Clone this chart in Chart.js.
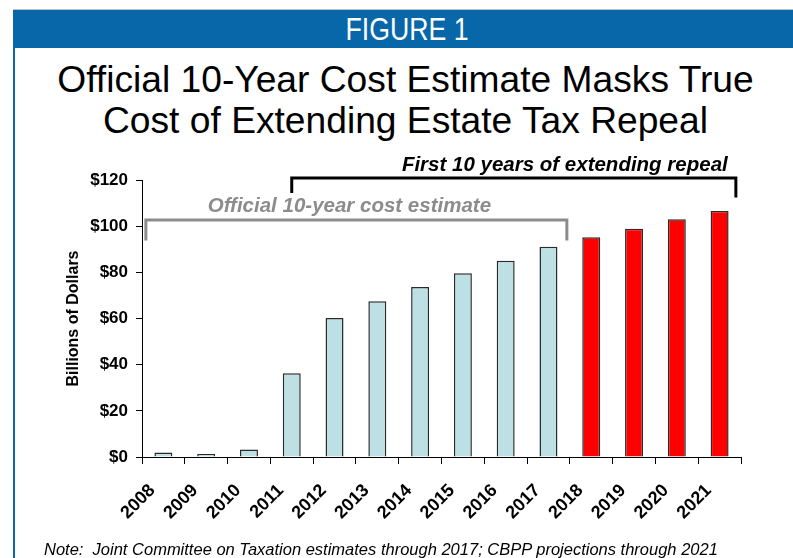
<!DOCTYPE html>
<html>
<head>
<meta charset="utf-8">
<script src="https://cdn.jsdelivr.net/npm/chart.js@4/dist/chart.umd.min.js"></script>
<style>
  html, body { margin:0; padding:0; background:#fff; }
  body { width:793px; height:558px; position:relative; overflow:hidden; font-family:"Liberation Sans", Arial, sans-serif; }
  #topline { position:absolute; left:13px; top:9px; width:780px; height:1px; background:#b8c4cc; }
  #header { position:absolute; left:13px; top:10px; width:780px; height:38px; background:#0767a9; color:#fff; }
  #header span { position:absolute; left:394px; top:4px; font-family:"Liberation Sans", Arial, sans-serif; font-size:31px; line-height:31px;
                 transform: translateX(-50%) scaleX(0.86); transform-origin: center; white-space:nowrap; }
  #leftborder { position:absolute; left:13px; top:48px; width:2px; height:510px; background:#0767a9; }
  #title { position:absolute; left:0; top:59px; width:811px; text-align:center; font-size:37.2px; line-height:41px; color:#000; }
  #note { position:absolute; left:44px; top:540px; font-size:16.5px; font-style:italic; color:#000; white-space:nowrap; }
  #wrap { position:absolute; left:0; top:0; width:793px; height:558px; }
</style>
</head>
<body>
<div id="topline"></div>
<div id="header"><span>FIGURE 1</span></div>
<div id="leftborder"></div>
<div id="title">Official 10-Year Cost Estimate Masks True<br>Cost of Extending Estate Tax Repeal</div>
<div id="wrap"><canvas id="c" width="793" height="558"></canvas></div>
<div id="note">Note:&nbsp; Joint Committee on Taxation estimates through 2017; CBPP projections through 2021</div>
<script>
const categories = ["2008","2009","2010","2011","2012","2013","2014","2015","2016","2017","2018","2019","2020","2021"];
const costValues = [2.0, 1.3, 3.3, 36.3, 60.2, 67.5, 73.6, 79.6, 85.0, 91.1, 95.2, 98.9, 103.0, 106.6];
const barColors = ["#bde0e4","#bde0e4","#bde0e4","#bde0e4","#bde0e4","#bde0e4","#bde0e4","#bde0e4","#bde0e4","#bde0e4","#ff0000","#ff0000","#ff0000","#ff0000"];
const yTicks = [0, 20, 40, 60, 80, 100, 120];
const yTitle = "Billions of Dollars";
// Bracket annotations: category-index span and value heights
const grayBracket = { text: "Official 10-year cost estimate", from: -0.41, to: 9.43, top: 102.7, legBottomLeft: 93.8, legBottomRight: 93.8, textValue: 108.5, color: "#8c8c8c", textShift: -7 };
const blackBracket = { text: "First 10 years of extending repeal", from: 3.0, to: 13.38, top: 120.9, legBottomLeft: 114.4, legBottomRight: 112.4, textValue: 126.4, color: "#000000", textShift: 51 };

const bracketPlugin = {
  id: 'brackets',
  afterDraw(chart) {
    const ctx = chart.ctx;
    const xs = chart.scales.x, ys = chart.scales.y;
    const step = xs.getPixelForValue(1) - xs.getPixelForValue(0);
    const px = v => xs.getPixelForValue(0) + v * step;
    [grayBracket, blackBracket].forEach(b => {
      const x1 = px(b.from), x2 = px(b.to);
      const yt = ys.getPixelForValue(b.top);
      ctx.save();
      ctx.strokeStyle = b.color;
      ctx.lineWidth = 3;
      ctx.lineJoin = 'miter';
      ctx.beginPath();
      ctx.moveTo(x1, ys.getPixelForValue(b.legBottomLeft));
      ctx.lineTo(x1, yt);
      ctx.lineTo(x2, yt);
      ctx.lineTo(x2, ys.getPixelForValue(b.legBottomRight));
      ctx.stroke();
      ctx.fillStyle = b.color;
      ctx.font = 'italic bold 20.5px "Liberation Sans", Arial, sans-serif';
      ctx.textAlign = 'center';
      ctx.textBaseline = 'middle';
      ctx.fillText(b.text, (x1 + x2) / 2 + b.textShift, ys.getPixelForValue(b.textValue));
      ctx.restore();
    });
  }
};

new Chart(document.getElementById('c'), {
  type: 'bar',
  data: {
    labels: categories,
    datasets: [{
      data: costValues,
      backgroundColor: barColors,
      borderColor: "#2a2a2a",
      borderWidth: 1.5,
      barPercentage: 0.42,
      categoryPercentage: 1.0
    }]
  },
  options: {
    responsive: false,
    animation: false,
    devicePixelRatio: 1,
    layout: { padding: { left: 0, top: 180, right: 52, bottom: 0 } },
    plugins: { legend: { display: false }, tooltip: { enabled: false } },
    scales: {
      x: {
        offset: true,
        grid: { display: true, drawOnChartArea: false, offset: true, tickLength: 7, color: "#000", lineWidth: 1 },
        border: { display: true, color: "#000", width: 1 },
        ticks: { color: "#000", font: { family: '"Liberation Sans", Arial, sans-serif', size: 18, weight: 'bold' },
                 maxRotation: 45, minRotation: 45, padding: 16, labelOffset: -11, autoSkip: false },
        afterFit(scale) { scale.height = 101; }
      },
      y: {
        min: 0, max: 120,
        afterBuildTicks(scale) { scale.ticks = yTicks.map(v => ({ value: v })); },
        grid: { display: true, drawOnChartArea: false, tickLength: 6, color: "#000", lineWidth: 1 },
        border: { display: true, color: "#000", width: 1 },
        ticks: { color: "#000", padding: 8, font: { family: '"Liberation Sans", Arial, sans-serif', size: 17, weight: 'bold' },
                 callback: v => '$' + v },
        title: { display: true, text: yTitle, color: "#000", padding: { top: 64, bottom: 0 },
                 font: { family: '"Liberation Sans", Arial, sans-serif', size: 16, weight: 'bold' } },
        afterFit(scale) { scale.width = 142; }
      }
    }
  },
  plugins: [bracketPlugin]
});
</script>
</body>
</html>
